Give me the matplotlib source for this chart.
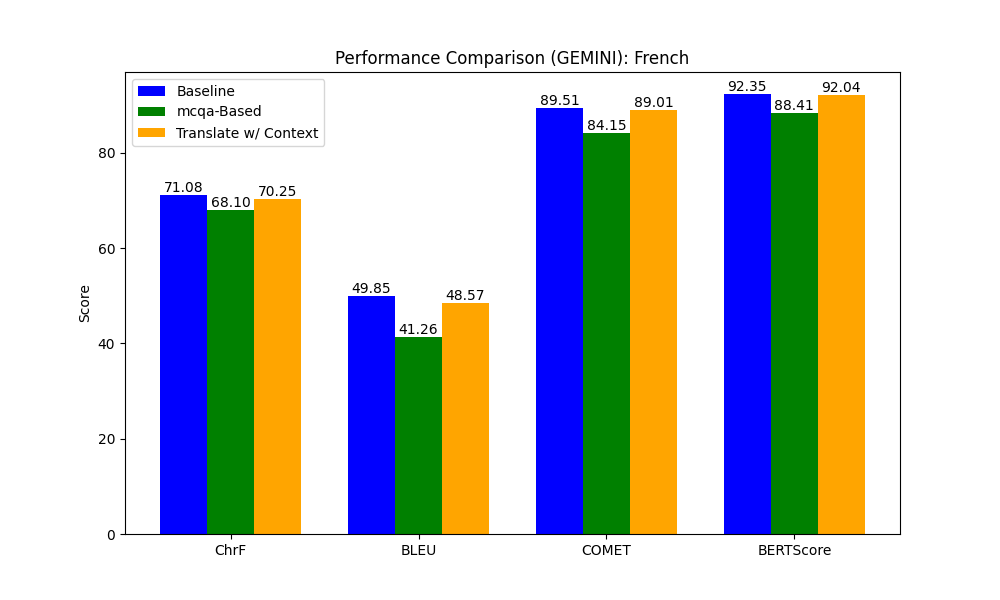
import numpy as np
import matplotlib
matplotlib.use('Agg')
import matplotlib.pyplot as plt

metrics = ['ChrF', 'BLEU', 'COMET', 'BERTScore']
baseline = [71.08, 49.85, 89.51, 92.35]
mcqa = [68.10, 41.26, 84.15, 88.41]
translate_ctx = [70.25, 48.57, 89.01, 92.04]

x = np.arange(len(metrics))
width = 0.25

fig, ax = plt.subplots(figsize=(10, 6), dpi=100)

b1 = ax.bar(x - width, baseline, width, label='Baseline', color='blue')
b2 = ax.bar(x, mcqa, width, label='mcqa-Based', color='green')
b3 = ax.bar(x + width, translate_ctx, width, label='Translate w/ Context', color='orange')

for bars in (b1, b2, b3):
    ax.bar_label(bars, fmt='%.2f')

ax.set_ylabel('Score')
ax.set_title('Performance Comparison (GEMINI): French')
ax.set_xticks(x)
ax.set_xticklabels(metrics)
ax.legend(loc='upper left')

fig.savefig('out.png')
